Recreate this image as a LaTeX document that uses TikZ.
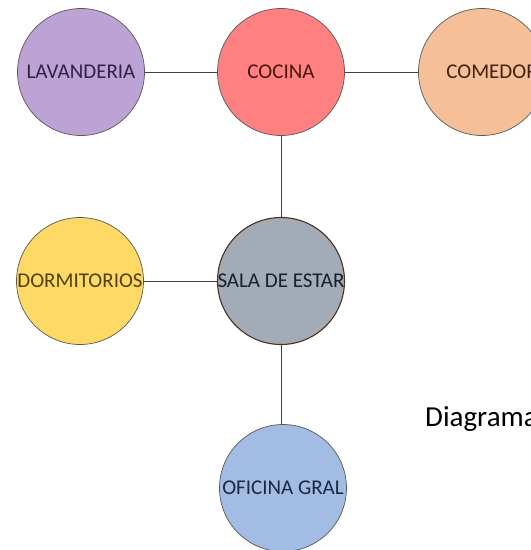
\documentclass[tikz,border=0pt]{standalone}
\usepackage{fontspec}
\setmainfont{Carlito}
\definecolor{lavf}{HTML}{BCA2D5}
\definecolor{cocf}{HTML}{FF8080}
\definecolor{comf}{HTML}{F5BF98}
\definecolor{dorf}{HTML}{FFD966}
\definecolor{salf}{HTML}{A3ABB7}
\definecolor{ofif}{HTML}{A3BCE3}
\definecolor{lavt}{HTML}{2E2440}
\definecolor{coct}{HTML}{4A1515}
\definecolor{comt}{HTML}{3E2212}
\definecolor{dort}{HTML}{4F4110}
\definecolor{salt}{HTML}{17202E}
\definecolor{ofit}{HTML}{1B2840}
\begin{document}
\begin{tikzpicture}[x=1pt,y=-1pt,
  room/.style={circle,minimum size=127pt,inner sep=0pt,draw=black!65,line width=0.7pt},
  lbl/.style={font=\fontsize{21}{25}\selectfont,inner sep=0pt},
  conn/.style={draw=black!75,line width=0.8pt}]
\useasboundingbox (0,0) rectangle (531,550);
\begin{scope}
\clip (0,0) rectangle (531,550);
\node[room,fill=lavf,label={[lbl,text=lavt]center:LAVANDERIA}] (lav) at (81,72) {};
\node[room,fill=cocf,label={[lbl,text=coct]center:COCINA}] (coc) at (281,72) {};
\node[room,fill=comf,label={[lbl,text=comt,xshift=10pt]center:COMEDOR}] (com) at (482,72) {};
\node[room,fill=dorf,label={[lbl,text=dort]center:DORMITORIOS}] (dor) at (80,281) {};
\node[room,fill=salf,draw=black!60!brown,line width=1.1pt,label={[lbl,text=salt]center:SALA DE ESTAR}] (sal) at (281,281) {};
\node[room,fill=ofif,label={[lbl,text=ofit]center:OFICINA GRAL}] (ofi) at (283,488) {};
\node[anchor=base west,inner sep=0pt,font=\fontsize{29}{34}\selectfont] (dia) at (425,426) {Diagrama};
\end{scope}
\draw[conn] (lav.east) -- (coc.west);
\draw[conn] (coc.east) -- (com.west);
\draw[conn] (coc.south) -- (sal.north);
\draw[conn] (dor.east) -- (sal.west);
\draw[conn] (sal.south) -- (ofi.north -| sal.south);
\end{tikzpicture}
\end{document}
